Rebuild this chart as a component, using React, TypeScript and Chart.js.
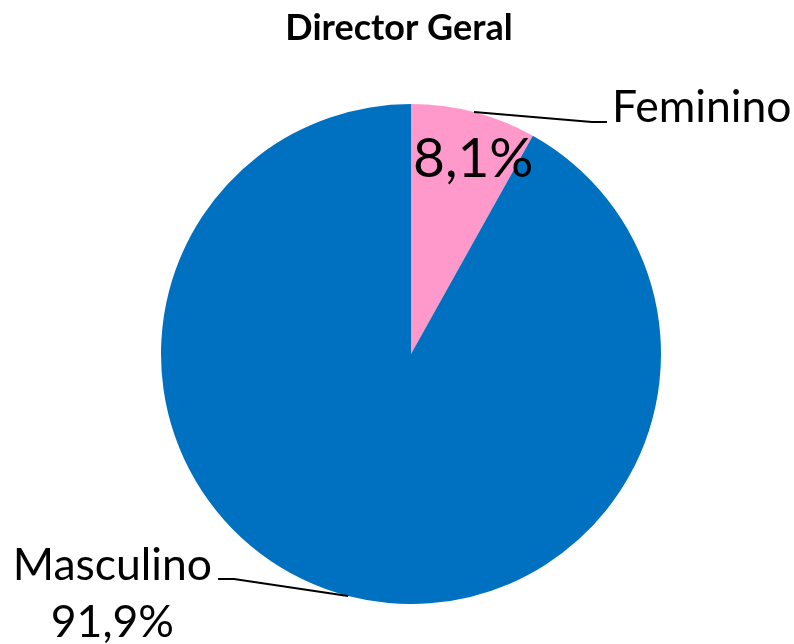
import React, { useEffect, useRef } from "react";
import { Chart, registerables } from "chart.js";

Chart.register(...registerables);

const title = "Director Geral";
const categories = ["Feminino", "Masculino"];
const values = [8.1, 91.9];
const valueLabels = ["8,1%", "91,9%"];
const colors = ["#FF99CC", "#0070C0"];

const FONT = "Lato, 'Open Sans', sans-serif";

const labelPlugin = {
  id: "pieLabels",
  afterDatasetsDraw(chart: any) {
    const ctx = chart.ctx;
    const meta = chart.getDatasetMeta(0);
    ctx.save();
    // title
    ctx.fillStyle = "#000";
    ctx.font = `bold 36px ${FONT}`;
    ctx.textAlign = "center";
    ctx.textBaseline = "alphabetic";
    ctx.fillText(title, 399, 40);

    meta.data.forEach((arc: any, i: number) => {
      const p = arc.getProps(["x", "y", "startAngle", "endAngle", "outerRadius"], true);
      const mid = (p.startAngle + p.endAngle) / 2;
      const ax = p.x + Math.cos(mid) * p.outerRadius;
      const ay = p.y + Math.sin(mid) * p.outerRadius;
      ctx.strokeStyle = "#000";
      ctx.lineWidth = 2;
      ctx.beginPath();
      if (i === 0) {
        const ex = ax + 118, ey = ay + 10;
        ctx.moveTo(ax, ay);
        ctx.lineTo(ex, ey);
        ctx.lineTo(ex + 15, ey);
        ctx.stroke();
        ctx.font = `44.5px ${FONT}`;
        ctx.textAlign = "left";
        ctx.fillText(categories[i], ex + 20, ey);
        ctx.font = `55px ${FONT}`;
        ctx.fillText(valueLabels[i], p.x + 2, p.y - 177);
      } else {
        const ex = ax - 114, ey = ay - 17;
        ctx.moveTo(ax, ay);
        ctx.lineTo(ex, ey);
        ctx.lineTo(ex - 16, ey);
        ctx.stroke();
        ctx.font = `44.5px ${FONT}`;
        ctx.textAlign = "right";
        const right = ex - 22;
        const w = ctx.measureText(categories[i]).width;
        ctx.fillText(categories[i], right, ey + 1);
        ctx.textAlign = "center";
        ctx.fillText(valueLabels[i], right - w / 2, ey + 58);
      }
    });
    ctx.restore();
  },
};

export default function App() {
  const ref = useRef<HTMLCanvasElement>(null);
  useEffect(() => {
    if (!ref.current) return;
    const chart = new Chart(ref.current, {
      type: "pie",
      data: {
        labels: categories,
        datasets: [
          {
            data: values,
            backgroundColor: colors,
            borderWidth: 0,
          },
        ],
      },
      options: {
        animation: false,
        responsive: false,
        layout: { padding: { left: 161, right: 133, top: 104, bottom: 40 } },
        plugins: {
          legend: { display: false },
          title: { display: false },
          tooltip: { enabled: false },
        },
      },
      plugins: [labelPlugin],
    });
    return () => chart.destroy();
  }, []);
  return (
    <div style={{ position: "fixed", left: 0, top: 0, width: 794, height: 644, background: "#fff" }}>
      <canvas ref={ref} width={794} height={644} style={{ width: 794, height: 644 }} />
    </div>
  );
}
